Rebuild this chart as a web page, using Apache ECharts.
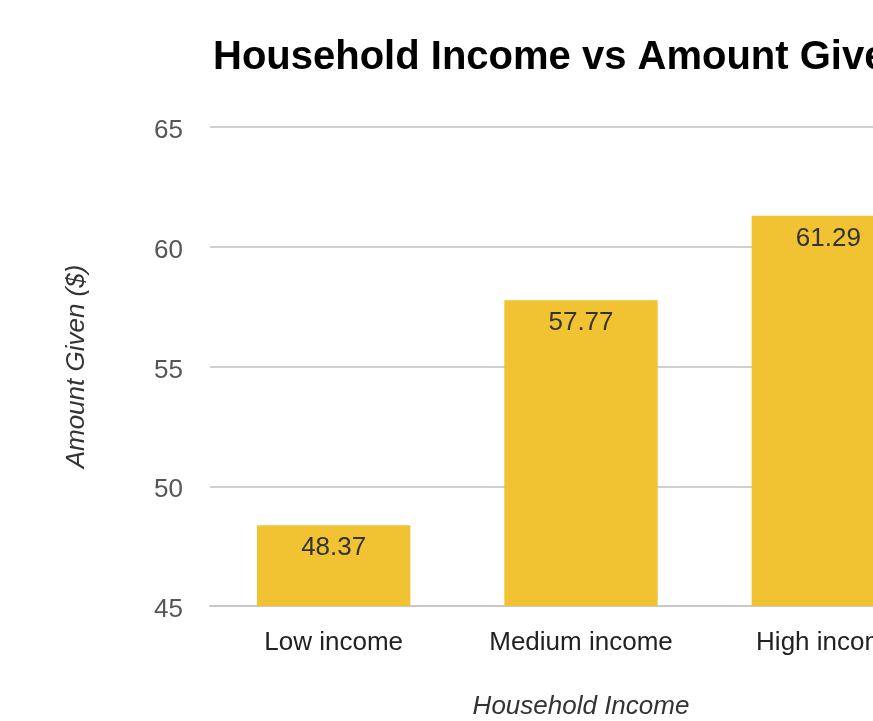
<!DOCTYPE html>
<html>
<head>
<meta charset="utf-8">
<script src="https://cdn.jsdelivr.net/npm/echarts@6/dist/echarts.min.js"></script>
<style>
  html, body { margin: 0; padding: 0; background: #fff; }
  #chart { width: 873px; height: 721px; }
</style>
</head>
<body>
<div id="chart"></div>
<script>
var categories = ["Low income", "Medium income", "High income"];
var amountGiven = [48.37, 57.77, 61.29];
var yMin = 45, yMax = 65, yStep = 5;

var chart = echarts.init(document.getElementById("chart"));
var font = "Liberation Sans, Arial, sans-serif";

chart.setOption({
  animation: false,
  title: {
    text: "Household Income vs Amount Given",
    left: 208,
    top: 33,
    textStyle: { fontFamily: font, fontSize: 40, fontWeight: "bold", color: "#000" }
  },
  grid: { left: 210, width: 742, top: 127, bottom: 115, outerBoundsMode: "none", containLabel: false },
  xAxis: {
    type: "category",
    data: categories,
    name: "Household Income",
    nameLocation: "middle",
    nameGap: 88,
    nameTextStyle: { fontFamily: font, fontSize: 26, fontStyle: "italic", color: "#333" },
    axisLine: { lineStyle: { color: "#c8c8c8", width: 2 } },
    axisTick: { show: false },
    axisLabel: { fontFamily: font, fontSize: 26, color: "#222", margin: 24, interval: 0 }
  },
  yAxis: {
    type: "value",
    min: yMin,
    max: yMax,
    interval: yStep,
    name: "Amount Given ($)",
    nameLocation: "middle",
    nameGap: 120,
    nameTextStyle: { fontFamily: font, fontSize: 26, fontStyle: "italic", color: "#333" },
    axisLine: { show: false },
    axisTick: { show: false },
    axisLabel: { fontFamily: font, fontSize: 26, color: "#555", margin: 27, verticalAlign: "top", padding: [-9, 0, 0, 0] },
    splitLine: { lineStyle: { color: "#d0d0d0", width: 2 } }
  },
  series: [{
    type: "bar",
    data: amountGiven,
    barWidth: "62%",
    itemStyle: { color: "#f1c232" },
    label: {
      show: true,
      position: "insideTop",
      distance: 10,
      fontFamily: font,
      fontSize: 26,
      color: "#333",
      formatter: function (p) { return p.value.toFixed(2); }
    }
  }]
});
</script>
</body>
</html>
